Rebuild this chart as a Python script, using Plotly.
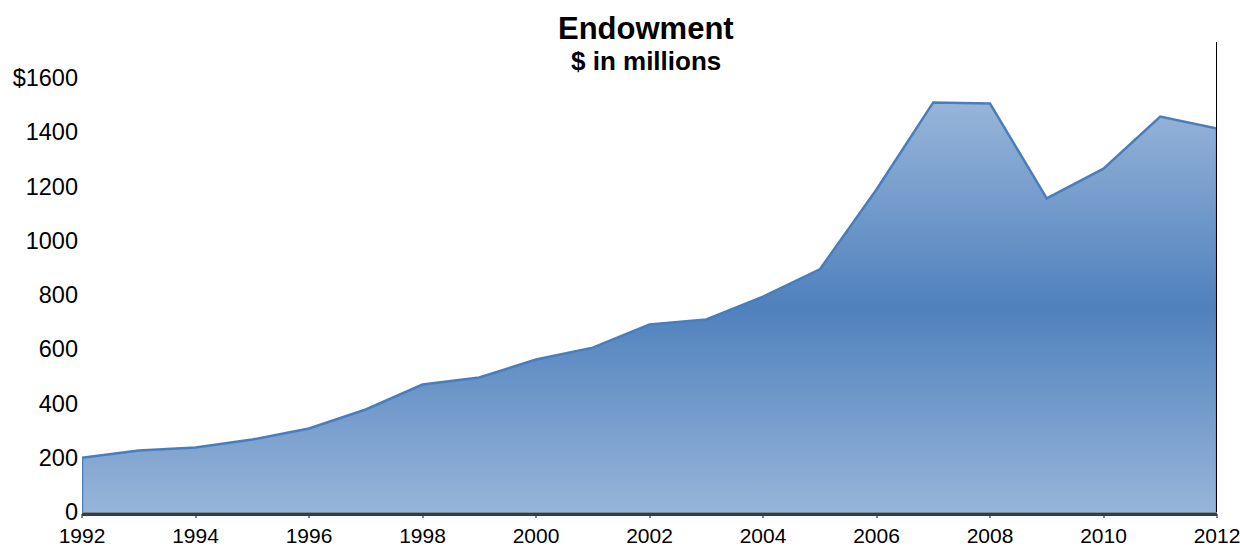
import plotly.graph_objects as go

years = list(range(1992, 2013))
endowment = [200, 227, 238, 267, 308, 378, 470, 496, 562, 606, 691, 710,
             794, 894, 1189, 1510, 1506, 1156, 1266, 1458, 1414]
y_ticks = [0, 200, 400, 600, 800, 1000, 1200, 1400, 1600]
y_tick_text = ["0", "200", "400", "600", "800", "1000", "1200", "1400", "$1600"]
x_ticks = list(range(1992, 2013, 2))

xs = [years[0]] + years + [years[-1]]
ys = [0] + endowment + [0]

PH = 434.0  # plot height in px

fig = go.Figure()
fig.add_trace(go.Scatter(
    x=xs, y=ys, mode="lines", fill="toself",
    line=dict(color="#4a7ebb", width=2.5),
    fillcolor="#4f81bd",
    fillgradient=dict(type="vertical",
                      colorscale=[[0, "#97b5d9"], [0.5, "#4f81bd"], [1, "#97b5d9"]],
                      start=0, stop=max(endowment)),
    hoverinfo="skip", showlegend=False,
))

# dark band below the axis
fig.add_shape(type="rect", xref="x", yref="paper", x0=years[0], x1=years[-1],
              y0=-4.0 / PH, y1=-1.0 / PH, fillcolor="#243f60", line=dict(width=0), layer="above")
# vertical black line at right
fig.add_shape(type="line", xref="x", yref="paper", x0=years[-1], x1=years[-1],
              y0=0, y1=(512 - 42) / PH, line=dict(color="black", width=2))

fig.add_annotation(text="<b>Endowment</b>", xref="paper", yref="paper", x=0.497, y=(512 - 28.5) / PH,
                   showarrow=False, font=dict(size=31, color="black", family="Liberation Sans, Arial"),
                   xanchor="center", yanchor="middle")
fig.add_annotation(text="<b>$ in millions</b>", xref="paper", yref="paper", x=0.497, y=(512 - 61.5) / PH,
                   showarrow=False, font=dict(size=26, color="black", family="Liberation Sans, Arial"),
                   xanchor="center", yanchor="middle")

fig.update_layout(
    width=1240, height=550,
    margin=dict(l=82, r=23, t=78, b=38),
    paper_bgcolor="white", plot_bgcolor="white",
    font=dict(family="Liberation Sans, Arial", size=21, color="black"),
    xaxis=dict(range=[years[0], years[-1]], tickmode="array", tickvals=x_ticks,
               ticktext=[str(v) for v in x_ticks], showgrid=False, zeroline=False,
               showline=True, linecolor="#868686", linewidth=2,
               ticks="outside", ticklen=4, tickcolor="#868686", tickwidth=2,
               tickfont=dict(size=21),
               ticklabeloverflow="allow", automargin=False),
    yaxis=dict(range=[0, 1600], tickmode="array", tickvals=y_ticks, ticktext=y_tick_text,
               showgrid=False, zeroline=False, showline=False, ticks="",
               ticklabelstandoff=3, tickfont=dict(size=23.5), automargin=False),
)

fig.write_html("out.html", config={"displayModeBar": False},
               post_script="document.body.style.margin='0';document.body.style.overflow='hidden';")
